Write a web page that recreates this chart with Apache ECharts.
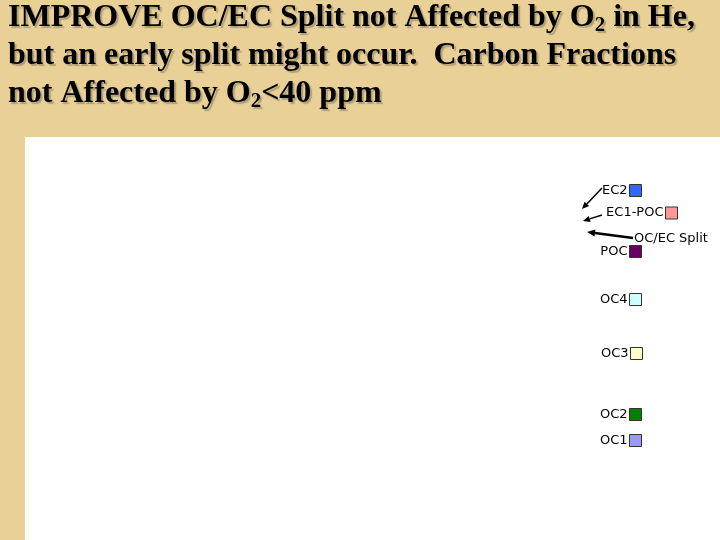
<!DOCTYPE html>
<html>
<head>
<meta charset="utf-8">
<script src="https://cdn.jsdelivr.net/npm/echarts@6/dist/echarts.min.js"></script>
<style>html,body{margin:0;padding:0;background:#e8d096}#c{width:720px;height:540px}</style>
</head>
<body>
<div id="c"></div>
<script>
// Carbon fraction names (legend), top to bottom, and their colours
const fractions = ['EC2', 'EC1-POC', 'POC', 'OC4', 'OC3', 'OC2', 'OC1'];
const fractionColors = ['#3366ff', '#ff9999', '#660066', '#ccffff', '#ffffcc', '#008000', '#9999ff'];
// The plot area of the reference carries no visible marks: empty value lists
const samples = [];
const fractionValues = { 'EC2': [], 'EC1-POC': [], 'POC': [], 'OC4': [], 'OC3': [], 'OC2': [], 'OC1': [] };
const splitLabel = 'OC/EC Split';

// legend placement (icon centre y, icon right edge x)
const legendPos = {
  'EC2': [190.5, 642], 'EC1-POC': [213, 678], 'POC': [251.5, 642], 'OC4': [299.5, 642],
  'OC3': [353.5, 643], 'OC2': [414.5, 642], 'OC1': [440.5, 642]
};

const chart = echarts.init(document.getElementById('c'));

function arrow(x1, y1, x2, y2, w, head) {
  const a = Math.atan2(y2 - y1, x2 - x1);
  const hx = x2 - head * Math.cos(a), hy = y2 - head * Math.sin(a);
  const px = Math.sin(a) * head * 0.45, py = -Math.cos(a) * head * 0.45;
  return [
    { type: 'line', shape: { x1: x1, y1: y1, x2: hx, y2: hy }, style: { stroke: '#000', lineWidth: w } },
    { type: 'polygon', shape: { points: [[x2, y2], [hx + px, hy + py], [hx - px, hy - py]] }, style: { fill: '#000' } }
  ];
}

const titleText =
  '{t|IMPROVE OC/EC Split not Affected by O}{s|2}{t| in He,}\n' +
  '{t|but an early split might occur.  Carbon Fractions}\n' +
  '{t|not Affected by O}{s|2}{t|<40 ppm}';

const shadow = { textShadowColor: 'rgba(120,110,90,0.5)', textShadowOffsetX: 2, textShadowOffsetY: 2, textShadowBlur: 1 };

const option = {
  backgroundColor: '#e8d096',
  animation: false,
  grid: { left: 40, right: 160, top: 150, bottom: 20 },
  xAxis: { type: 'category', data: samples, show: false },
  yAxis: { type: 'value', show: false },
  legend: fractions.map(function (f) {
    return {
      data: [f], align: 'right', padding: 0, selectedMode: false,
      right: 720 - legendPos[f][1], top: legendPos[f][0] - 6.5,
      itemWidth: 12, itemHeight: 12, icon: 'rect',
      itemStyle: { borderColor: '#333', borderWidth: 1 },
      textStyle: { fontFamily: 'DejaVu Sans', fontSize: 13, color: '#000', lineHeight: 13, padding: [0, -3, 0, 0] }
    };
  }),
  series: fractions.map(function (f, i) {
    return {
      name: f, type: 'bar', stack: 'carbon', data: fractionValues[f],
      itemStyle: { color: fractionColors[i], borderColor: '#333', borderWidth: 1 }
    };
  }),
  graphic: [
    { type: 'rect', z: -10, shape: { x: 25, y: 137, width: 695, height: 403 }, style: { fill: '#ffffff' } },
    {
      type: 'text', left: 8, top: -1, z: 10,
      style: Object.assign({
        text: titleText, fill: '#000',
        rich: {
          t: Object.assign({ fontFamily: 'Liberation Serif', fontWeight: 'bold', fontSize: 32, lineHeight: 38 }, shadow),
          s: Object.assign({ fontFamily: 'Liberation Serif', fontWeight: 'bold', fontSize: 21, lineHeight: 20, padding: [16, 0, 0, 0] }, shadow)
        }
      }, shadow)
    },
    { type: 'text', x: 634, y: 232, style: { text: splitLabel, fontFamily: 'DejaVu Sans', fontSize: 13, fill: '#000' } }
  ].concat(arrow(602, 188, 582, 209, 1.5, 7))
   .concat(arrow(602, 215, 583, 221, 1.5, 7))
   .concat(arrow(633, 238, 587, 232, 2.5, 8))
};
chart.setOption(option);
</script>
</body>
</html>
